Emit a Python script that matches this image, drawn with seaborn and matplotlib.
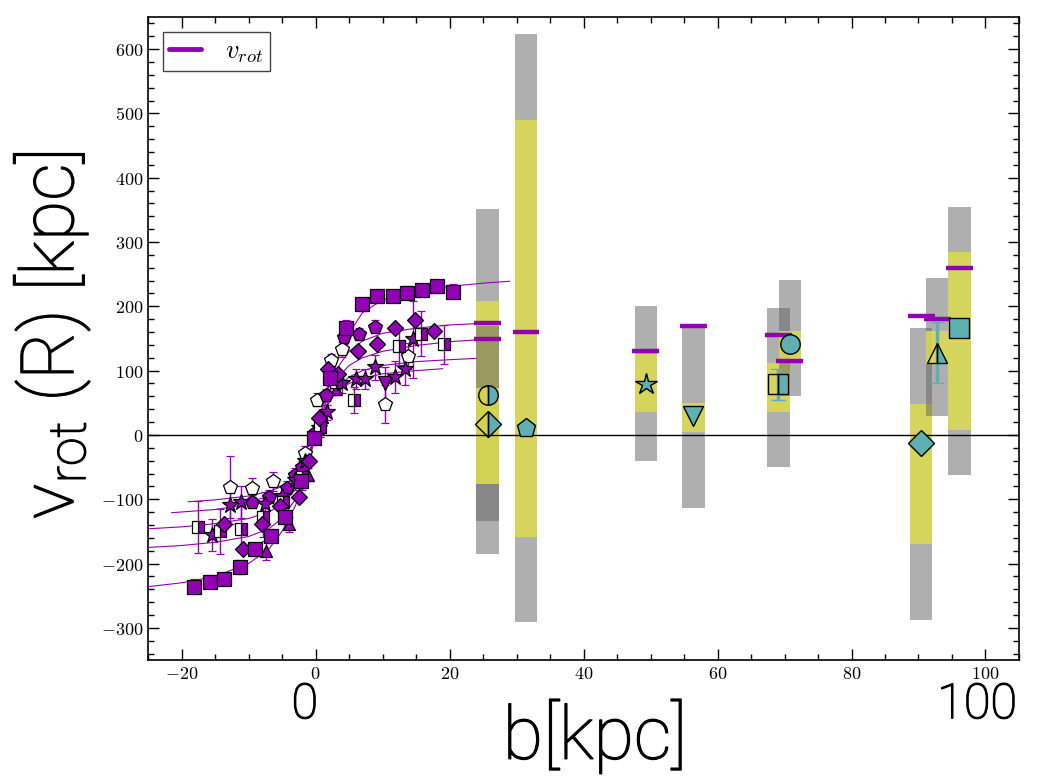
import matplotlib
matplotlib.use('Agg')
import matplotlib.pyplot as plt
import matplotlib.patheffects as pe
from matplotlib.ticker import MultipleLocator, FuncFormatter
from matplotlib.lines import Line2D
import seaborn as sns
import pandas as pd

sns.set_style('ticks')
plt.rcParams['mathtext.fontset'] = 'cm'
plt.rcParams['mathtext.rm'] = 'Roboto:weight=light'
plt.rcParams['font.family'] = ['DejaVu Sans']
plt.rcParams['text.color'] = 'k'
plt.rcParams['axes.labelcolor'] = 'k'

PURPLE = '#9200b4'
CYAN = '#5fb0b0'
GRAY = '#606060'
YELLOW = '#dcdc50'

# ---------------- rotation-curve fits ----------------
fit1_b = [-25, -20, -15, -10, -7, -5, -3, -2, -1, 0, 1, 2, 3, 5, 7, 10, 15, 20, 25, 29]
fit1_v = [-236, -230, -220, -200, -178, -150, -110, -80, -42, 0, 42, 80, 112, 158, 190, 210, 224, 231, 236, 239]
fit2_b = [-25, -20, -15, -10, -7, -5, -3, -2, -1, 0, 1, 2, 3, 5, 7, 10, 15, 20, 25.7]
fit2_v = [-175, -172, -167, -158, -146, -130, -100, -75, -40, 0, 40, 75, 100, 130, 146, 158, 166, 171, 174]
fit3_b = [-25, -20, -15, -10, -7, -5, -3, -2, -1, 0, 1, 2, 3, 5, 7, 10, 15, 20, 25.7]
fit3_v = [-146, -143, -138, -130, -120, -108, -85, -64, -34, 0, 34, 64, 85, 108, 120, 130, 139, 145, 149]
fit4_b = [-21.5, -15, -10, -7, -5, -3, -2, -1, 0, 1, 2, 3, 5, 7, 10, 15, 20, 24]
fit4_v = [-121, -116, -108, -100, -90, -72, -55, -30, 0, 30, 55, 72, 90, 100, 108, 114, 117, 119]
fit5_b = [-19, -15, -10, -7, -5, -3, -2, -1, 0, 1, 2, 3, 5, 7, 10, 15, 19]
fit5_v = [-104, -101, -95, -88, -80, -65, -50, -28, 0, 28, 50, 65, 80, 88, 95, 100, 103]

# ---------------- rotation-curve data points ----------------
sq_b = [-18.2, -15.8, -13.6, -11.3, -9.0, -6.7, -4.5, -2.2, -0.2, 2.2, 4.5, 6.9, 9.2, 11.5, 13.7, 15.9, 18.2, 20.5]
sq_v = [-236, -228, -224, -206, -178, -157, -128, -72, -5, 88, 166, 203, 216, 216, 221, 225, 231, 223]
sq_e = [12, 10, 10, 11, 10, 10, 10, 10, 10, 12, 12, 10, 10, 10, 10, 10, 10, 12]

dia_b = [-13.7, -10.8, -8.0, -5.3, -2.5, -1.0, 0.5, 1.9, 3.4, 6.3, 9.1, 11.9, 14.8, 17.7]
dia_v = [-139, -177, -139, -111, -97, -40, 27, 102, 94, 131, 142, 167, 179, 162]
dia_e = [5, 5, 5, 5, 5, 5, 5, 5, 5, 5, 5, 5, 5, 5]

hsq_b = [-17.6, -14.2, -11.2, -7.8, -4.8, -2.0, 0.6, 3.0, 5.7, 12.4, 15.8, 19.1]
hsq_v = [-143, -150, -146, -128, -105, -65, 12, 82, 54, 138, 157, 141]
hsq_e = [40, 35, 35, 30, 25, 20, 15, 20, 20, 30, 35, 30]

star_b = [-15.5, -12.7, -11.1, -7.5, -5.0, -3.0, -1.5, 0.5, 1.7, 4.0, 6.0, 7.4, 8.9, 11.8, 13.3, 14.6]
star_v = [-156, -109, -104, -108, -95, -70, -40, 10, 35, 80, 87, 87, 105, 90, 102, 149]
star_e = [25, 30, 25, 20, 15, 15, 12, 10, 12, 15, 15, 15, 20, 25, 25, 60]

opent_b = [-12.8, -9.5, -6.3, -1.5, 0.2, 2.3, 3.9, 10.4, 13.8]
opent_v = [-81, -82, -72, -28, 55, 116, 133, 48, 123]
opent_e = [48, 15, 15, 10, 10, 10, 12, 30, 20]

pent_b = [-9.5, -7.0, -4.2, -3.0, -2.0, 0.0, 1.5, 4.3, 6.5, 8.9]
pent_v = [-104, -96, -82, -62, -50, 5, 62, 152, 157, 168]
pent_e = [10, 10, 10, 10, 10, 10, 10, 10, 10, 10]

tri_b = [-7.4, -3.9, -1.2, 1.0, 3.0]
tri_v = [-180, -139, -62, 28, 72]
tri_e = [15, 12, 10, 10, 10]

trid_b = [10.3]
trid_v = [80]
trid_e = [25]

# ---------------- absorber sight-lines ----------------
abs_b = [25.7, 25.7, 31.4, 49.3, 56.4, 69.1, 70.8, 90.4, 92.8, 96.1]
gray_hi = [351, 170, 624, 201, 167, 198, 241, 166, 244, 355]
gray_lo = [-134, -185, -291, -40, -113, -50, 60, -288, 29, -62]
yel_hi = [208, 73, 490, 126, 50, 112, 162, 48, 162, 285]
yel_lo = [-77, -77, -158, 36, 5, 35, 112, -170, 111, 7]
vrot_model = [174, 149, 160, 130, 170, 155, 115, 185, 180, 260]
abs_b_obs = [25.7, 25.8, 31.4, 49.4, 56.4, 69.1, 70.8, 90.4, 92.8, 96.1]
v_obs = [62, 17.6, 11, 79, 29.5, 79, 141, -12.4, 128, 167]
v_obs_err = [0, 0, 0, 0, 0, 24, 0, 0, 48, 0]
obs_marker = ['o', 'D', 'p', '*', 'v', 's', 'o', 'D', '^', 's']
obs_half = [True, True, False, False, False, True, False, False, True, False]

fig = plt.figure(figsize=(10.53, 7.78), dpi=100)
ax = fig.add_axes([0.1406, 0.1517, 0.8271, 0.8265])

BAR_W = 3.35
for i in range(len(abs_b)):
    ax.bar(abs_b[i], gray_hi[i] - gray_lo[i], bottom=gray_lo[i], width=BAR_W,
           color=GRAY, alpha=0.5, linewidth=0, zorder=1)
    ax.bar(abs_b[i], yel_hi[i] - yel_lo[i], bottom=yel_lo[i], width=BAR_W,
           color=YELLOW, alpha=0.85, linewidth=0, zorder=1)

ax.axhline(0, color='k', lw=1, zorder=2)

# fit curves via seaborn
fits = [(fit1_b, fit1_v), (fit2_b, fit2_v), (fit3_b, fit3_v), (fit4_b, fit4_v), (fit5_b, fit5_v)]
for fb, fv in fits:
    df = pd.DataFrame({'b': fb, 'v': fv})
    sns.lineplot(data=df, x='b', y='v', ax=ax, color=PURPLE, lw=0.8,
                 estimator=None, sort=False, zorder=3)

common = dict(ls='none', ecolor=PURPLE, elinewidth=1, capsize=3, capthick=1,
              mec='k', mew=0.9, zorder=4)
ax.errorbar(tri_b, tri_v, yerr=tri_e, marker='^', ms=9, mfc=PURPLE, **common)
ax.errorbar(trid_b, trid_v, yerr=trid_e, marker='v', ms=10, mfc=PURPLE, **common)
ax.errorbar(opent_b, opent_v, yerr=opent_e, marker='p', ms=10, mfc='white', **common)
ax.errorbar(pent_b, pent_v, yerr=pent_e, marker='p', ms=10, mfc=PURPLE, **common)
ax.errorbar(star_b, star_v, yerr=star_e, marker='*', ms=12, mfc=PURPLE, **common)
ax.errorbar(hsq_b, hsq_v, yerr=hsq_e, marker='s', ms=9, mfc=PURPLE,
            fillstyle='right', markerfacecoloralt='white', **common)
ax.errorbar(dia_b, dia_v, yerr=dia_e, marker='D', ms=8.5, mfc=PURPLE, **common)
ax.errorbar(sq_b, sq_v, yerr=sq_e, marker='s', ms=9.5, mfc=PURPLE, **common)

# model rotation velocity at each sightline
ax.hlines(vrot_model, [b - 2.0 for b in abs_b], [b + 2.0 for b in abs_b],
          color=PURPLE, lw=3.2, zorder=5)

# observed absorber velocities
for i in range(len(abs_b_obs)):
    kw = dict(marker=obs_marker[i], ms=16 if obs_marker[i] in ('*',) else 14,
              mfc=CYAN, mec='k', mew=1, ls='none', ecolor=CYAN, elinewidth=2.5,
              capsize=5, capthick=2.5, zorder=6)
    if obs_marker[i] == 'D':
        kw['ms'] = 13
    if obs_half[i]:
        kw['fillstyle'] = 'right'
        kw['markerfacecoloralt'] = 'none'
    ax.errorbar([abs_b_obs[i]], [v_obs[i]],
                yerr=[v_obs_err[i]] if v_obs_err[i] > 0 else None, **kw)

ax.set_xlim(-25, 105)
ax.set_ylim(-350, 650)
ax.xaxis.set_major_locator(MultipleLocator(20))
ax.xaxis.set_minor_locator(MultipleLocator(5))
ax.yaxis.set_major_locator(MultipleLocator(100))
ax.yaxis.set_minor_locator(MultipleLocator(20))
fmt = FuncFormatter(lambda v, p: r'$%d$' % int(round(v)))
ax.xaxis.set_major_formatter(fmt)
ax.yaxis.set_major_formatter(fmt)
ax.tick_params(which='both', direction='in', top=True, right=True, labelsize=13, colors='k')
ax.tick_params(which='major', length=8, width=1)
ax.tick_params(which='minor', length=4.5, width=1)
for s in ax.spines.values():
    s.set_color('k')
    s.set_linewidth(1.2)

thick = [pe.withStroke(linewidth=0.9, foreground='k')]
bigfont = dict(family='Roboto', weight='light', color='k', path_effects=thick)
ax.set_xlabel('b[kpc]', fontsize=53, va='center', **bigfont)
ax.xaxis.set_label_coords(0.513, -0.118)
ax.set_ylabel(r'v$_{\mathrm{rot}}$ (R) [kpc]', fontsize=53, va='center',
              math_fontfamily='custom', **bigfont)
ax.yaxis.set_label_coords(-0.11, 0.505)
ax.text(0.18, -0.07, '0', transform=ax.transAxes, fontsize=35, ha='center', va='center', **bigfont)
ax.text(0.952, -0.07, '100', transform=ax.transAxes, fontsize=35, ha='center', va='center', **bigfont)

handle = Line2D([], [], color=PURPLE, lw=3.5)
leg = ax.legend([handle], [r'$v_{rot}$'], loc='upper left', bbox_to_anchor=(0.017, 0.977),
                borderaxespad=0, fontsize=19, handlelength=1.2, handletextpad=0.9,
                borderpad=0.25, fancybox=False, framealpha=1, edgecolor='#444444')
leg.get_frame().set_linewidth(1)

fig.savefig('out.png', dpi=100)
